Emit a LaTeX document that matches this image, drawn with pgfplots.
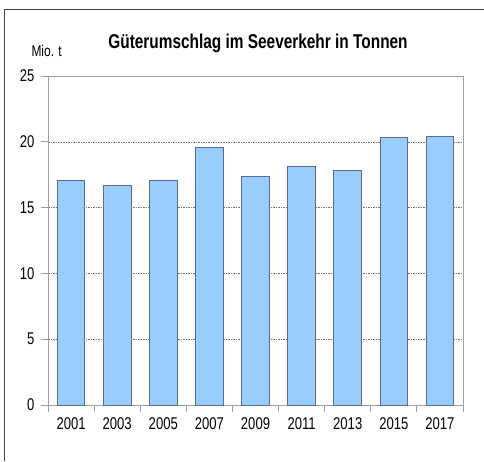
\documentclass[border=0pt]{standalone}
\usepackage{fontspec}
\setmainfont{Liberation Sans}[FakeStretch=0.77]
\usepackage{pgfplots}
\pgfplotsset{compat=1.18}
\definecolor{barfill}{HTML}{99CCFF}
\definecolor{barline}{HTML}{5A6C86}
\definecolor{axgray}{HTML}{A0A0A0}
\begin{document}
\begin{tikzpicture}[x=1pt,y=1pt]
\path[use as bounding box] (0,0) rectangle (484,461);
\draw[black!75,line width=0.8pt] (4,0) -- (4,452) -- (484,452);
\node[font=\fontsize{20}{22}\selectfont\bfseries] at (258,418) {Güterumschlag im Seeverkehr in Tonnen};
\node[font=\fontsize{15.5}{17}\selectfont,anchor=west] at (28,410) {Mio. t};
\begin{axis}[
  at={(48pt,56pt)}, anchor=south west,
  scale only axis, width=415pt, height=329pt,
  ymin=0, ymax=25, ytick={0,5,...,25},
  xmin=-0.5, xmax=8.5,
  xtick={-0.5,0.5,...,8.5},
  xticklabels={2001,2003,2005,2007,2009,2011,2013,2015,2017,{}},
  x tick label style={font=\fontsize{17}{18}\selectfont, yshift=-2.5pt, xshift=23.06pt},
  y tick label style={font=\fontsize{17}{18}\selectfont, xshift=-3pt},
  /pgf/number format/assume math mode=true,
  axis line style={axgray,line width=0.9pt},
  tick align=outside,
  major tick length=7pt,
  xtick style={axgray,line width=0.8pt},
  ytick style={axgray,line width=0.8pt},
  ymajorgrids,
  grid style={black!55,dash pattern=on 1.5pt off 1pt,line width=0.6pt},
  ybar, bar width=0.6,
  tick pos=left,
]
\addplot[fill=barfill, draw=barline, line width=0.9pt] coordinates {
(0,17.07) (1,16.7) (2,17.1) (3,19.55) (4,17.4) (5,18.15) (6,17.8) (7,20.3) (8,20.4)};
\end{axis}
\end{tikzpicture}
\end{document}
